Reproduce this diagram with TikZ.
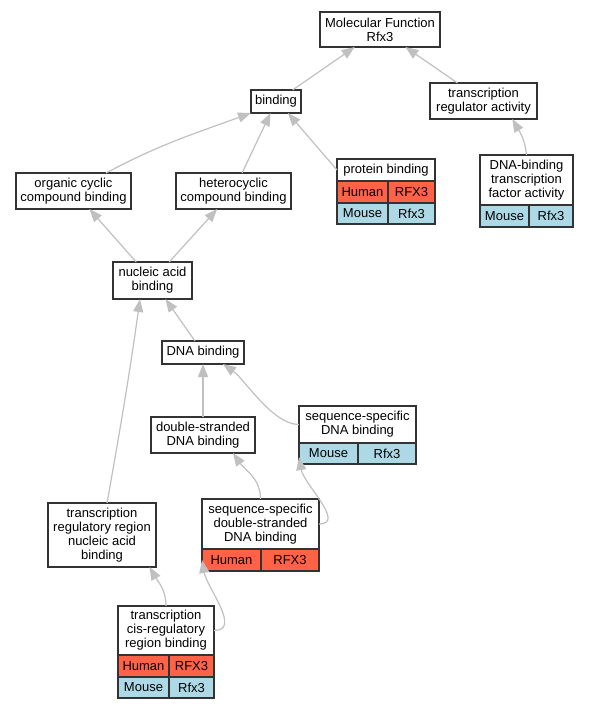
\documentclass[tikz,border=0pt]{standalone}
\usepackage{fontspec}
\setmainfont{Liberation Sans}
\usetikzlibrary{arrows.meta, positioning}
\definecolor{humanred}{HTML}{FF6347}
\definecolor{mouseblue}{HTML}{ADD8E6}
\definecolor{edgegray}{HTML}{C0C0C0}
\definecolor{boxline}{HTML}{333333}

\begin{document}
\begin{tikzpicture}[
    x=1pt, y=1pt,
    every node/.style={font=\fontsize{13}{14}\selectfont},
    term/.style={
        rectangle,
        draw=boxline,
        line width=1.2pt,
        fill=white,
        align=center,
        inner sep=0pt,
        outer sep=0pt
    },
    human/.style={term, fill=humanred, minimum height=22},
    mouse/.style={term, fill=mouseblue, minimum height=21},
    arrow/.style={
        -{Triangle[length=13pt, width=10pt]},
        draw=edgegray,
        line width=1.2pt
    }
]
\useasboundingbox (0,0) rectangle (589,-709);

\node (mf) [term, minimum width=120, minimum height=35] at (380,-29.5) {Molecular Function\\Rfx3};
\node (tra) [term, minimum width=107, minimum height=36] at (483.5,-101) {transcription\\regulator activity};
\node (bind) [term, minimum width=50, minimum height=23] at (276,-101.5) {binding};

\node (pb) [term, minimum width=98, minimum height=22] at (386,-170) {protein binding};
\node (pbh) [human, below right=0pt and 0pt of pb.south west, minimum width=51] {Human};
\node (pbhg) [human, right=0pt of pbh, minimum width=47] {RFX3};
\node (pbm) [mouse, below=0pt of pbh, minimum width=51] {Mouse};
\node (pbmg) [mouse, right=0pt of pbm, minimum width=47] {Rfx3};

\node (dbtf) [term, minimum width=93, minimum height=50] at (526.5,-180) {DNA-binding\\transcription\\factor activity};
\node (dbtfm) [mouse, below right=0pt and 0pt of dbtf.south west, minimum width=49, minimum height=22] {Mouse};
\node (dbtfmg) [mouse, right=0pt of dbtfm, minimum width=44, minimum height=22] {Rfx3};

\node (orgc) [term, minimum width=115, minimum height=36] at (73.5,-191) {organic cyclic\\compound binding};
\node (het) [term, minimum width=115, minimum height=36] at (233.5,-191) {heterocyclic\\compound binding};
\node (nab) [term, minimum width=79, minimum height=37] at (152.5,-280.5) {nucleic acid\\binding};
\node (dnab) [term, minimum width=82, minimum height=23] at (203,-352.5) {DNA binding};
\node (dsdna) [term, minimum width=104, minimum height=36] at (203,-435) {double-stranded\\DNA binding};

\node (ssdna) [term, minimum width=117, minimum height=37] at (357.5,-424.5) {sequence-specific\\DNA binding};
\node (ssdm) [mouse, below right=0pt and 0pt of ssdna.south west, minimum width=59] {Mouse};
\node (ssdmg) [mouse, right=0pt of ssdm, minimum width=58] {Rfx3};

\node (ssds) [term, minimum width=117, minimum height=50] at (260.5,-524) {sequence-specific\\double-stranded\\DNA binding};
\node (ssdsh) [human, below right=0pt and 0pt of ssds.south west, minimum width=59] {Human};
\node (ssdshg) [human, right=0pt of ssdsh, minimum width=58] {RFX3};

\node (trr) [term, minimum width=108, minimum height=64] at (102,-535) {transcription\\regulatory region\\nucleic acid\\binding};

\node (tcrb) [term, minimum width=96, minimum height=49] at (166,-630.5) {transcription\\cis-regulatory\\region binding};
\node (tcrbh) [human, below right=0pt and 0pt of tcrb.south west, minimum width=51] {Human};
\node (tcrbhg) [human, right=0pt of tcrbh, minimum width=45] {RFX3};
\node (tcrbm) [mouse, below=0pt of tcrbh, minimum width=51] {Mouse};
\node (tcrbmg) [mouse, right=0pt of tcrbm, minimum width=45] {Rfx3};

\draw [arrow] (bind) -- (mf);
\draw [arrow] (tra) -- (mf);
\draw [arrow] (dbtf.north) to[out=95, in=-60] (tra.-32);
\draw [arrow] (orgc.29) to[out=28, in=200] (bind.south west);
\draw [arrow] (het) -- (bind);
\draw [arrow] (pb.west) -- (bind.-44);
\draw [arrow] (nab) -- (orgc);
\draw [arrow] (nab) -- (het);
\draw [arrow] (dnab) -- (nab);
\draw [arrow] (trr.81) to[out=80, in=-98] (nab.-124);
\draw [arrow] (dsdna) -- (dnab);
\draw [arrow] (ssdna.west) to[out=180, in=-35, looseness=0.7] (dnab.-30);
\draw [arrow] (ssds.north) to[out=90, in=-55] (dsdna.-31);
\draw [arrow] (ssds.east) to[out=0, in=-80] (ssdm.187);
\draw [arrow] (tcrb.north) to[out=90, in=-60] (trr.-34);
\draw [arrow] (tcrb.east) to[out=0, in=-80] (ssdsh.west);

\end{tikzpicture}
\end{document}
